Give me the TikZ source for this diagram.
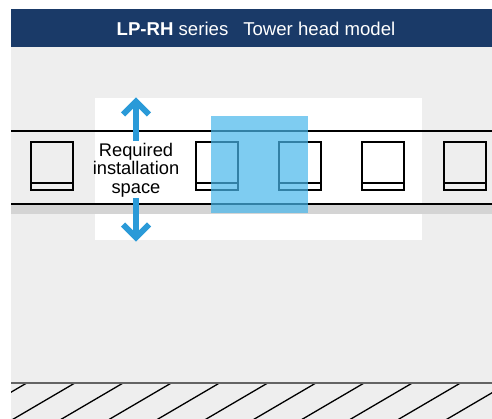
\documentclass[tikz,border=0pt]{standalone}
\usepackage{fontspec}
\setmainfont{Liberation Sans}
\usetikzlibrary{arrows.meta}
\definecolor{navy}{RGB}{26,58,104}
\definecolor{panelgray}{RGB}{238,238,238}
\definecolor{stripgray}{RGB}{212,212,212}
\definecolor{arrowblue}{RGB}{42,154,216}
\definecolor{spaceblue}{RGB}{72,183,236}
\definecolor{floorgray}{RGB}{100,100,100}
\tikzset{
  rail/.style={line width=2pt, black},
  unitbox/.style={draw=black, line width=1.2pt},
  bigarrow/.style={draw=arrowblue, line width=6pt, line join=miter},
  hatchline/.style={line width=1.3pt, black},
}
\begin{document}
\begin{tikzpicture}[x=1pt,y=-1pt]
\useasboundingbox (0,0) rectangle (492,419);
% panel
\fill[panelgray] (11,47) rectangle (492,419);
% header
\fill[navy] (11,9) rectangle (492,47);
\node[anchor=base, text=white, font=\fontsize{18.6}{18.6}\selectfont, inner sep=0pt] (title) at (256,35.3) {\textbf{LP-RH} series\hspace{15pt}Tower head model};
% white installation area
\fill[white] (95,98) rectangle (422,240);
% gray strip
\fill[stripgray] (11,204) rectangle (492,214);
% rails
\draw[rail] (11,131) coordinate (rtl) -- (492,131) coordinate (rtr);
\draw[rail] (11,204) coordinate (rbl) -- (492,204) coordinate (rbr);
% units
\foreach \x [count=\i] in {31,196,279,362,444}{
  \draw[unitbox] (\x,142) rectangle ++(42,48);
  \draw[unitbox] (\x,183) -- ++(42,0);
}
% label
\node[align=center, font=\fontsize{18.3}{18.3}\selectfont, inner sep=0pt] (req) at (136,170) {Required\\installation\\space};
% arrows
\coordinate (upA) at (136,141);
\coordinate (upB) at (136,101.5);
\coordinate (dnA) at (136,198);
\coordinate (dnB) at (136,237.5);
\draw[bigarrow] (upA) -- (upB);
\draw[bigarrow] ([xshift=-13pt,yshift=-13pt]upB) -- (upB) -- ([xshift=13pt,yshift=-13pt]upB);
\draw[bigarrow] (dnA) -- (dnB);
\draw[bigarrow] ([xshift=-13pt,yshift=13pt]dnB) -- (dnB) -- ([xshift=13pt,yshift=13pt]dnB);
% blue required space
\fill[spaceblue, opacity=0.7] (211,116) rectangle (308,213);
% floor
\begin{scope}
\clip (11,383) rectangle (492,419);
\foreach \k in {0,...,11}{
  \draw[hatchline] ({26.7+48.2*\k},383) -- ({26.7+48.2*\k-64},420.5);
}
\end{scope}
\draw[floorgray, line width=1.5pt] (11,383) -- (492,383);
\end{tikzpicture}
\end{document}
